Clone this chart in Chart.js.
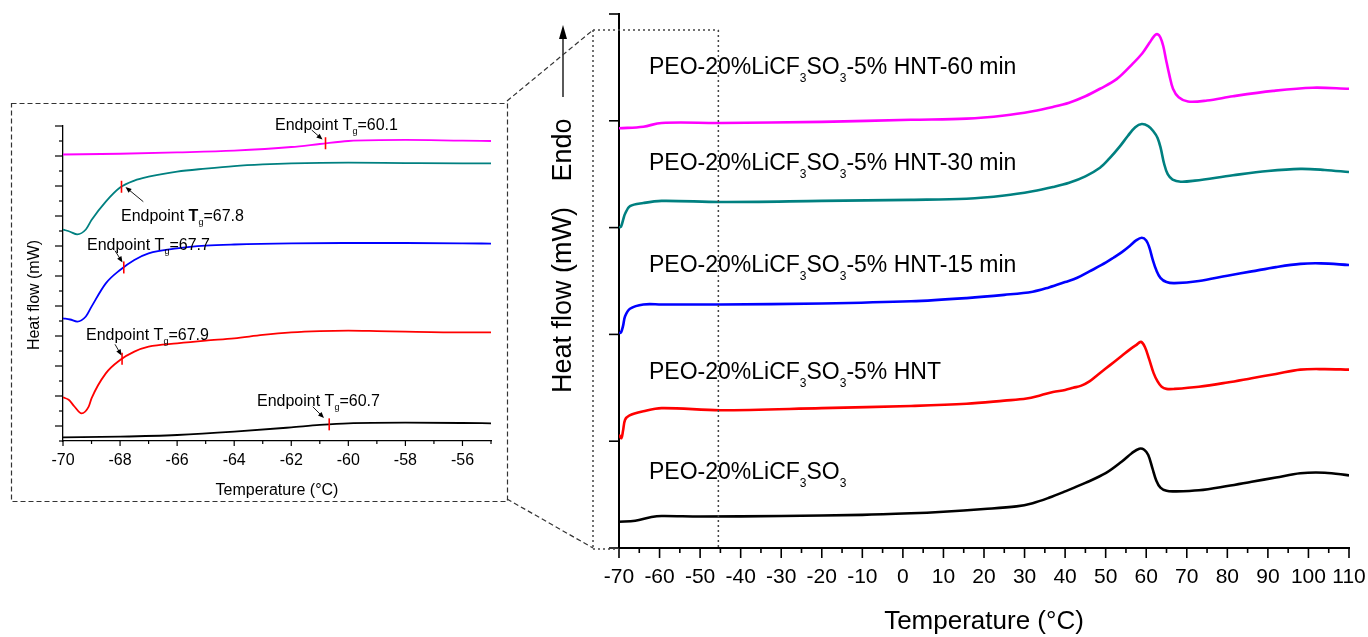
<!DOCTYPE html>
<html><head><meta charset="utf-8">
<script src="https://cdn.jsdelivr.net/npm/chart.js"></script>
<style>
html,body{margin:0;padding:0;background:#fff;}
#wrap{position:relative;width:1368px;height:637px;overflow:hidden;}
canvas{position:absolute;left:0;top:0;}
</style></head><body>
<div id="wrap"><canvas id="main" width="1368" height="637"></canvas><canvas id="inset" width="1368" height="637"></canvas></div>
<script>
const FONT = "'Liberation Sans', Arial, Helvetica, sans-serif";

// ---------- Main DSC chart data (Temperature °C, heat flow in stacked units) ----------
const mainXTicks = [-70,-60,-50,-40,-30,-20,-10,0,10,20,30,40,50,60,70,80,90,100,110];

const tBlack = [-70,-66,-62,-59.5,-50,-30,-10,2,10,20,28,32,36,40,45,50,54,56.5,58.3,59.5,60.5,61.5,62.5,63.5,65,67,73,80,86,92,98,104,110];
const hBlack = [0.246,0.255,0.29,0.30,0.295,0.30,0.31,0.325,0.34,0.365,0.39,0.42,0.47,0.53,0.61,0.70,0.81,0.89,0.93,0.92,0.87,0.75,0.63,0.565,0.535,0.53,0.54,0.58,0.62,0.66,0.70,0.705,0.68];

const tRed = [-70,-69.4,-69,-68.5,-67.5,-64,-59.5,-45,-20,2,15.7,25,30.5,34,37,40,42,44,46,48,50,52,54,56,57.5,58.7,59.7,60.7,61.8,62.8,63.8,65,67,73,80,86,92,98,104,110];
const hRed = [1.06,1.03,1.10,1.20,1.24,1.28,1.31,1.29,1.31,1.33,1.35,1.38,1.40,1.43,1.46,1.48,1.50,1.52,1.56,1.62,1.68,1.74,1.80,1.86,1.90,1.93,1.88,1.77,1.64,1.56,1.51,1.49,1.49,1.51,1.55,1.59,1.63,1.67,1.675,1.67];

const tBlue = [-70,-69.5,-69,-68.5,-67.3,-64,-59.5,-45,-20,2,15.7,25,32,36,40,43,46,49,52,54,56,57.5,58.9,60,60.8,61.6,62.5,63.5,65,67,73,80,86,92,98,103,110];
const hBlue = [2.01,2.02,2.08,2.17,2.24,2.28,2.28,2.28,2.29,2.31,2.34,2.37,2.40,2.44,2.49,2.53,2.59,2.65,2.72,2.77,2.83,2.88,2.905,2.88,2.81,2.70,2.60,2.53,2.49,2.48,2.50,2.55,2.59,2.63,2.66,2.665,2.65];

const tTeal = [-70,-69.5,-69,-68.5,-67.3,-64,-59.5,-45,-20,2,15.7,25,32,37,41,45,48.6,51,53.5,55.5,57.3,58.9,60.5,61.8,62.8,63.6,64.4,65.3,66.5,68.5,72,81.4,90,98,104,110];
const hTeal = [3.0,3.01,3.07,3.13,3.20,3.23,3.25,3.24,3.25,3.26,3.27,3.30,3.34,3.38,3.42,3.48,3.56,3.65,3.76,3.86,3.94,3.97,3.95,3.90,3.84,3.74,3.60,3.50,3.45,3.43,3.44,3.49,3.53,3.55,3.54,3.52];

const tMag = [-70,-64,-59.5,-45,-20,2,15.7,25,32,37,41,45,48.6,52.7,56.8,59,60.8,62.1,62.8,63.5,64.2,64.9,65.7,66.6,68,70.3,75,81.4,91.3,101,110];
const hMag = [3.93,3.945,3.98,3.98,3.99,4.01,4.02,4.05,4.09,4.13,4.17,4.23,4.30,4.39,4.54,4.63,4.73,4.80,4.81,4.78,4.70,4.57,4.43,4.30,4.22,4.18,4.19,4.23,4.28,4.31,4.30];

// Curve labels (rich text: [text, kind])
const mainLabels = [
  [['PEO-20%LiCF',''],['3','sub'],['SO',''],['3','sub']],
  [['PEO-20%LiCF',''],['3','sub'],['SO',''],['3','sub'],['-5% HNT','']],
  [['PEO-20%LiCF',''],['3','sub'],['SO',''],['3','sub'],['-5% HNT-15 min','']],
  [['PEO-20%LiCF',''],['3','sub'],['SO',''],['3','sub'],['-5% HNT-30 min','']],
  [['PEO-20%LiCF',''],['3','sub'],['SO',''],['3','sub'],['-5% HNT-60 min','']]
];

// ---------- Inset (glass transition region) data ----------
const insetXTicks = [-70,-68,-66,-64,-62,-60,-58,-56];

const itBlack = [-70,-68,-66,-64,-62,-61,-60,-58,-56,-55];
const ihBlack = [0.24,0.29,0.40,0.62,0.91,1.07,1.18,1.22,1.20,1.18];

const itRed = [-70,-69.8,-69.6,-69.35,-69.1,-69,-68.5,-68,-67.5,-67,-66,-65,-64,-63,-62,-61,-60,-59,-58,-56,-55];
const ihRed = [2.91,2.75,2.30,1.84,2.29,2.84,4.51,5.40,5.96,6.29,6.51,6.69,6.84,7.07,7.24,7.33,7.36,7.33,7.29,7.24,7.24];

const itBlue = [-70,-69.75,-69.5,-69.2,-69,-68.5,-68,-67.5,-67,-66,-65,-64,-62,-60,-58,-56,-55];
const ihBlue = [8.18,8.10,7.96,8.30,8.96,10.51,11.40,12.07,12.51,12.84,13.02,13.10,13.18,13.20,13.20,13.18,13.16];

const itTeal = [-70,-69.75,-69.5,-69.2,-69,-68.5,-68,-67.5,-67,-66,-65,-64,-63,-62,-60,-58,-56,-55];
const ihTeal = [14.10,13.95,13.78,14.10,14.73,15.96,16.90,17.36,17.62,17.96,18.16,18.33,18.44,18.51,18.56,18.53,18.51,18.51];

const itMag = [-70,-68,-66,-64,-62,-61,-60,-58,-56,-55];
const ihMag = [19.10,19.15,19.24,19.36,19.60,19.80,20.00,20.07,20.02,20.00];

// Endpoint Tg marks (black, red, blue, teal, magenta order of labels below)
const markT  = [-60.67,-67.93,-67.87,-67.95,-60.8];
const markHF = [1.11,5.48,11.57,16.95,19.85];
const markLabels = [
  [['Endpoint T',''],['g','sub'],['=60.7','']],
  [['Endpoint T',''],['g','sub'],['=67.9','']],
  [['Endpoint T',''],['g','sub'],['=67.7','']],
  [['Endpoint ',''],['T','b'],['g','sub'],['=67.8','']],
  [['Endpoint T',''],['g','sub'],['=60.1','']]
];

const colors = ['#000000','#ff0000','#0000ff','#008080','#ff00ff'];

// ---------- helpers ----------
function pts(t, h){ return t.map((v,i)=>({x:v,y:h[i]})); }
function richText(ctx, x, y, parts, size, subSize, subDy){
  let cx = x;
  ctx.textAlign = 'left'; ctx.textBaseline = 'alphabetic';
  for (const [t,k] of parts){
    let fs = size, dy = 0, w = '';
    if (k === 'sub'){ fs = subSize; dy = subDy; }
    if (k === 'b') w = 'bold ';
    ctx.font = w + fs + 'px ' + FONT;
    ctx.fillText(t, cx, y + dy);
    cx += ctx.measureText(t).width;
  }
}
function line(ctx,x1,y1,x2,y2){ ctx.beginPath(); ctx.moveTo(x1,y1); ctx.lineTo(x2,y2); ctx.stroke(); }
function arrow(ctx,x1,y1,x2,y2,hl,hw){
  const a = Math.atan2(y2-y1,x2-x1);
  line(ctx,x1,y1,x2-Math.cos(a)*hl*0.6,y2-Math.sin(a)*hl*0.6);
  ctx.beginPath();
  ctx.moveTo(x2,y2);
  ctx.lineTo(x2-Math.cos(a)*hl-Math.sin(a)*hw, y2-Math.sin(a)*hl+Math.cos(a)*hw);
  ctx.lineTo(x2-Math.cos(a)*hl+Math.sin(a)*hw, y2-Math.sin(a)*hl-Math.cos(a)*hw);
  ctx.closePath(); ctx.fill();
}

// ---------- main chart ----------
const mainDeco = {
  id:'mainDeco',
  beforeDraw(chart){ const c=chart.ctx; c.save(); c.fillStyle='#fff'; c.fillRect(0,0,chart.width,chart.height); c.restore(); },
  afterDraw(chart){
    const ctx = chart.ctx, xs = chart.scales.x, ys = chart.scales.y, a = chart.chartArea;
    ctx.save();
    ctx.strokeStyle = '#000'; ctx.fillStyle = '#000'; ctx.lineWidth = 1.6;
    for (let v = xs.min; v <= xs.max; v += 5){
      const px = xs.getPixelForValue(v);
      line(ctx, px, a.bottom, px, a.bottom + (v % 10 === 0 ? 10 : 5));
    }
    for (let v = ys.min; v <= ys.max; v += 1){
      const py = ys.getPixelForValue(v);
      line(ctx, a.left - 10, py, a.left, py);
    }
    // y title
    ctx.font = '27px ' + FONT; ctx.textAlign = 'center'; ctx.textBaseline = 'alphabetic';
    ctx.save(); ctx.translate(571, 300); ctx.rotate(-Math.PI/2); ctx.fillText('Heat flow (mW)', 0, 0); ctx.restore();
    ctx.save(); ctx.translate(571, 150); ctx.rotate(-Math.PI/2); ctx.fillText('Endo', 0, 0); ctx.restore();
    ctx.lineWidth = 1.3;
    arrow(ctx, 563, 97, 563, 25, 14, 4);
    // curve labels
    const base = [479, 379, 272, 170, 74];
    mainLabels.forEach((p,i)=> richText(ctx, 649, base[i], p, 23, 12, 8));
    // dotted zoom region
    ctx.strokeStyle = '#444'; ctx.lineWidth = 1.5; ctx.setLineDash([2,3]);
    const xr = xs.getPixelForValue(-45.5);
    line(ctx, 593, 30, xr, 30);
    line(ctx, 593, 30, 593, a.bottom + 1);
    line(ctx, xr, 30, xr, a.bottom);
    line(ctx, 593, a.bottom + 1, a.left, a.bottom + 1);
    // inset frame and connectors
    ctx.strokeStyle = '#333'; ctx.lineWidth = 1.2; ctx.setLineDash([5,3]);
    ctx.strokeRect(11.5, 103.5, 496, 398);
    line(ctx, 507, 101, 593, 30);
    line(ctx, 507, 499, 593, a.bottom);
    ctx.restore();
  }
};

const mainData = [[tBlack,hBlack],[tRed,hRed],[tBlue,hBlue],[tTeal,hTeal],[tMag,hMag]];
new Chart(document.getElementById('main'), {
  type:'line',
  data:{ datasets: mainData.map((d,i)=>({ data: pts(d[0],d[1]), borderColor: colors[i], borderWidth: 2.6, pointRadius: 0, fill:false, tension:0.35 })) },
  options:{
    responsive:false, animation:false, devicePixelRatio:1,
    layout:{ padding:{ left:0, right:19, top:14, bottom:0 } },
    plugins:{ legend:{display:false}, tooltip:{enabled:false} },
    scales:{
      x:{ type:'linear', min:-70, max:110,
        afterBuildTicks: s => { s.ticks = mainXTicks.map(v=>({value:v})); },
        ticks:{ font:{size:21, family:FONT}, color:'#000', padding:17, maxRotation:0, autoSkip:false, callback: v => String(v) },
        grid:{ display:false, drawTicks:false },
        border:{ display:true, color:'#000', width:2 },
        title:{ display:true, text:'Temperature (°C)', font:{size:26, family:FONT}, color:'#000', padding:{top:0,bottom:0} },
        afterFit: s => { s.height = 89; s.paddingLeft = 0; s.paddingRight = 0; }
      },
      y:{ type:'linear', min:0, max:5,
        ticks:{ display:false },
        grid:{ display:false, drawTicks:false },
        border:{ display:true, color:'#000', width:2 },
        afterFit: s => { s.width = 619; s.paddingTop = 0; s.paddingBottom = 0; }
      }
    }
  },
  plugins:[mainDeco]
});

// ---------- inset chart ----------
const insetDeco = {
  id:'insetDeco',
  afterDraw(chart){
    const ctx = chart.ctx, xs = chart.scales.x, ys = chart.scales.y, a = chart.chartArea;
    ctx.save();
    ctx.strokeStyle = '#000'; ctx.fillStyle = '#000'; ctx.lineWidth = 1.2;
    for (let v = xs.min; v <= xs.max; v += 1){
      const px = xs.getPixelForValue(v);
      line(ctx, px, a.bottom, px, a.bottom + (v % 2 === 0 ? 5 : 3));
    }
    for (let v = ys.min; v <= ys.max; v += 1){
      const py = ys.getPixelForValue(v);
      line(ctx, a.left - (v % 2 === 1 ? 8 : 4), py, a.left, py);
    }
    ctx.font = '16px ' + FONT; ctx.textAlign = 'center'; ctx.textBaseline = 'alphabetic';
    ctx.save(); ctx.translate(38.5, 295); ctx.rotate(-Math.PI/2); ctx.fillText('Heat flow (mW)', 0, 0); ctx.restore();
    // endpoint labels (black, red, blue, teal, magenta)
    const lx = [257, 86, 87, 121, 275];
    const ly = [405.7, 340, 250, 220.7, 130];
    markLabels.forEach((p,i)=> richText(ctx, lx[i], ly[i], p, 16, 9, 4));
    ctx.lineWidth = 0.9;
    const arr = [[312.7,406.7,324,418],[115,344.3,121.5,355.5],[115,250.7,122.5,262.5],[143.3,201.7,125.5,187],[311.7,130,322.5,139.5]];
    arr.forEach(q => arrow(ctx, q[0], q[1], q[2], q[3], 6, 2.5));
    ctx.restore();
  }
};

const insetData = [[itBlack,ihBlack],[itRed,ihRed],[itBlue,ihBlue],[itTeal,ihTeal],[itMag,ihMag]];
const insetSets = insetData.map((d,i)=>({ data: pts(d[0],d[1]), borderColor: colors[i], borderWidth: 1.8, pointRadius: 0, fill:false, cubicInterpolationMode:'monotone', order:1 }));
insetSets.push({ data: pts(markT, markHF), showLine:false, pointStyle:'line', pointRotation:90, pointRadius:6, pointBorderColor:'#ff0000', pointBorderWidth:1.6, borderColor:'#ff0000', order:-1 });

new Chart(document.getElementById('inset'), {
  type:'line',
  data:{ datasets: insetSets },
  options:{
    responsive:false, animation:false, devicePixelRatio:1,
    layout:{ padding:{ left:0, right:877, top:126, bottom:136 } },
    plugins:{ legend:{display:false}, tooltip:{enabled:false} },
    scales:{
      x:{ type:'linear', min:-70, max:-55,
        afterBuildTicks: s => { s.ticks = insetXTicks.map(v=>({value:v})); },
        ticks:{ font:{size:16, family:FONT}, color:'#000', padding:10, maxRotation:0, autoSkip:false, callback: v => String(v) },
        grid:{ display:false, drawTicks:false },
        border:{ display:true, color:'#000', width:1.3 },
        title:{ display:true, text:'Temperature (°C)', font:{size:16, family:FONT}, color:'#000', padding:{top:0,bottom:1} },
        afterFit: s => { s.height = 60; s.paddingLeft = 0; s.paddingRight = 0; }
      },
      y:{ type:'linear', min:0, max:21,
        ticks:{ display:false },
        grid:{ display:false, drawTicks:false },
        border:{ display:true, color:'#000', width:1.3 },
        afterFit: s => { s.width = 63; s.paddingTop = 0; s.paddingBottom = 0; }
      }
    }
  },
  plugins:[insetDeco]
});
</script>
</body></html>
